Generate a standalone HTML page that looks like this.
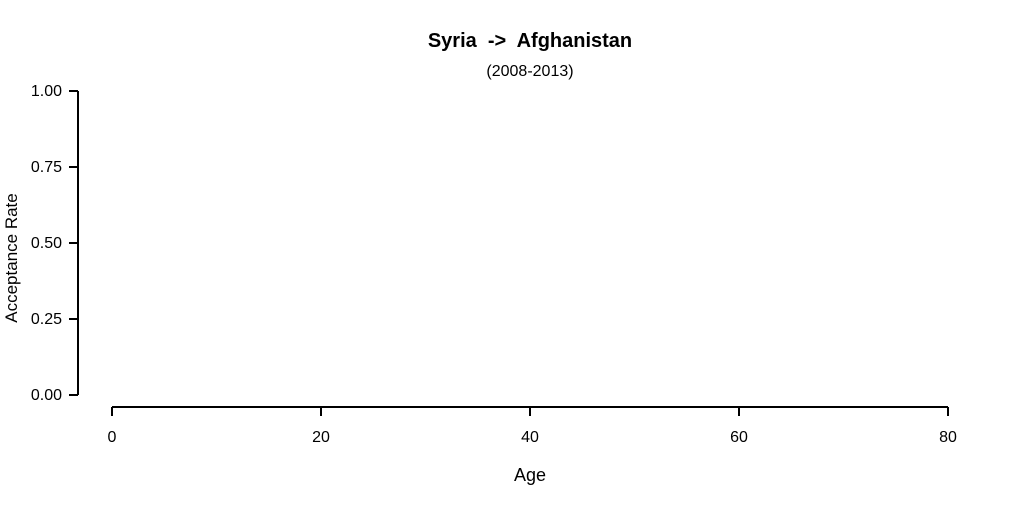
<!DOCTYPE html>
<html><head><meta charset="utf-8">
<style>
html,body{margin:0;padding:0;background:#fff;}
svg{display:block;font-family:"Liberation Sans",Arial,sans-serif;}
text{white-space:pre;}
</style></head>
<body>
<svg id="chart" width="1023" height="505" viewBox="0 0 1023 505">
<text x="530" y="47" text-anchor="middle" font-size="20" font-weight="bold" xml:space="preserve">Syria  -&gt;  Afghanistan</text>
<text x="530" y="76" text-anchor="middle" font-size="16">(2008-2013)</text>
<text transform="translate(17,258) rotate(-90)" text-anchor="middle" font-size="17">Acceptance Rate</text>
<text x="530" y="481" text-anchor="middle" font-size="18">Age</text>
<g id="yaxis"></g>
<g id="xaxis"></g>
<g id="marks"></g>
</svg>
<script>
const yTicks = [0, 0.25, 0.5, 0.75, 1];
const yTickLabels = ["0.00", "0.25", "0.50", "0.75", "1.00"];
const xTicks = [0, 20, 40, 60, 80];
const xTickLabels = ["0", "20", "40", "60", "80"];
const ages = [];
const rates = [];

const NS = "http://www.w3.org/2000/svg";
function yScale(v){ return 395 - v * (395 - 91); }
function xScale(v){ return 112 + v / 80 * (948 - 112); }
function mk(tag, attrs, parent){
  const e = document.createElementNS(NS, tag);
  for (const k in attrs) e.setAttribute(k, attrs[k]);
  parent.appendChild(e);
  return e;
}
const ya = document.getElementById('yaxis');
const yl = mk('line', {x1:78, x2:78, y1:yScale(1), y2:yScale(0), stroke:'#000', 'stroke-width':2}, ya);


yTicks.forEach((t, i) => {
  const y = yScale(t);
  const tk = mk('line', {x1:69, x2:78, y1:y, y2:y, stroke:'#000', 'stroke-width':2}, ya);
  
  
  const tx = mk('text', {x:62, y:y + 5, 'text-anchor':'end', 'font-size':16}, ya);
  tx.textContent = yTickLabels[i];
  
  
});
const xa = document.getElementById('xaxis');
const xl = mk('line', {x1:xScale(0), x2:xScale(80), y1:407, y2:407, stroke:'#000', 'stroke-width':2}, xa);


xTicks.forEach((t, i) => {
  const x = xScale(t);
  const tk = mk('line', {x1:x, x2:x, y1:407, y2:416, stroke:'#000', 'stroke-width':2}, xa);
  
  
  const tx = mk('text', {x:x, y:442, 'text-anchor':'middle', 'font-size':16}, xa);
  tx.textContent = xTickLabels[i];
  
  
});
const mg = document.getElementById('marks');
ages.forEach((a, i) => {
  const c = mk('circle', {cx:xScale(a), cy:yScale(rates[i]), r:3, fill:'#000'}, mg);
  
  
});
</script>
</body></html>
